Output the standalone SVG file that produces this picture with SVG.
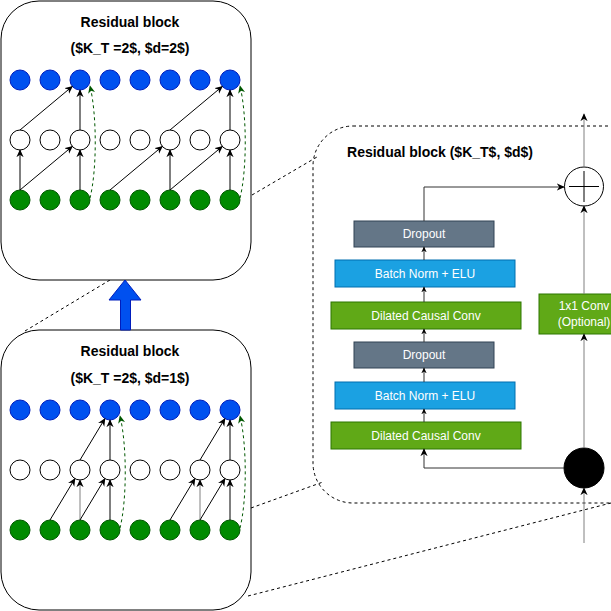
<svg xmlns="http://www.w3.org/2000/svg" width="611" height="611" viewBox="0 0 611 611">
<defs>
<marker id="ab" viewBox="0 0 10 10" refX="9" refY="5" markerWidth="8" markerHeight="8" markerUnits="userSpaceOnUse" orient="auto"><path d="M0,0.5 L10,5 L0,9.5 L3,5 z" fill="#000"/></marker>
<marker id="ag" viewBox="0 0 10 10" refX="9" refY="5" markerWidth="8" markerHeight="8" markerUnits="userSpaceOnUse" orient="auto"><path d="M0,0.5 L10,5 L0,9.5 L3,5 z" fill="#005700"/></marker>
<marker id="as" viewBox="0 0 10 10" refX="9" refY="5" markerWidth="6" markerHeight="6" markerUnits="userSpaceOnUse" orient="auto"><path d="M0,0.5 L10,5 L0,9.5 L3,5 z" fill="#000"/></marker>
</defs>
<style>
.blk{fill:#fff;stroke:#000;stroke-width:1}
.t{font-family:"Liberation Sans",Arial,sans-serif;font-weight:bold;font-size:14px;fill:#000;text-anchor:middle;dominant-baseline:central}
.lbl{font-family:"Liberation Sans",Arial,sans-serif;font-size:12px;fill:#fff;text-anchor:middle;dominant-baseline:central}
.b{fill:#0050ef;stroke:#001DBC}
.w{fill:#fff;stroke:#000}
.g{fill:#008a00;stroke:#005700}
.e{stroke:#000;fill:none;marker-end:url(#ab)}
.eg{stroke:#808080;fill:none;marker-end:url(#ab)}
.d{stroke:#005700;stroke-dasharray:3 3;fill:none;marker-end:url(#ag)}
.z{stroke:#000;stroke-dasharray:3 3;fill:none}
.s{stroke:#333;fill:none;marker-end:url(#as)}
.r{stroke:#333;fill:none;marker-end:url(#ab)}
.gray{fill:#647687;stroke:#314354}
.bn{fill:#1ba1e2;stroke:#006EAF}
.cv{fill:#60a917;stroke:#2D7600}
</style>

<!-- zoom lines -->
<g id="zoom-lines">
<path class="z" d="M252,195 L317,157"/>
<path class="z" d="M25,331 L110,280"/>
<path class="z" d="M251,508 L323,482"/>
<path class="z" d="M248,596 L611,503"/>
</g>

<!-- top block -->
<g id="block-top">
<rect class="blk" x="1" y="1" width="250" height="279" rx="38"/>
<text class="t" x="130" y="22">Residual block</text>
<text class="t" x="130" y="48">($K_T =2$, $d=2$)</text>
</g>

<!-- lower block -->
<g id="block-bottom">
<rect class="blk" x="1" y="330" width="250" height="280" rx="38"/>
<text class="t" x="130" y="351">Residual block</text>
<text class="t" x="130" y="378">($K_T =2$, $d=1$)</text>
</g>

<g id="up-arrow">
<polygon points="125,280 141,300 130.5,300 130.5,330 120.5,330 120.5,300 109,300" fill="#0050ef" stroke="#001DBC"/>
</g>

<!-- top block nodes -->
<g id="t-b1"><circle class="b" cx="20" cy="80" r="10"/></g>
<g id="t-b2"><circle class="b" cx="50" cy="80" r="10"/></g>
<g id="t-b3"><circle class="b" cx="80" cy="80" r="10"/></g>
<g id="t-b4"><circle class="b" cx="110" cy="80" r="10"/></g>
<g id="t-b5"><circle class="b" cx="140" cy="80" r="10"/></g>
<g id="t-b6"><circle class="b" cx="170" cy="80" r="10"/></g>
<g id="t-b7"><circle class="b" cx="200" cy="80" r="10"/></g>
<g id="t-b8"><circle class="b" cx="230" cy="80" r="10"/></g>
<g id="t-w1"><circle class="w" cx="20" cy="140" r="10"/></g>
<g id="t-w2"><circle class="w" cx="50" cy="140" r="10"/></g>
<g id="t-w3"><circle class="w" cx="80" cy="140" r="10"/></g>
<g id="t-w4"><circle class="w" cx="110" cy="140" r="10"/></g>
<g id="t-w5"><circle class="w" cx="140" cy="140" r="10"/></g>
<g id="t-w6"><circle class="w" cx="170" cy="140" r="10"/></g>
<g id="t-w7"><circle class="w" cx="200" cy="140" r="10"/></g>
<g id="t-w8"><circle class="w" cx="230" cy="140" r="10"/></g>
<g id="t-g1"><circle class="g" cx="20" cy="200" r="10"/></g>
<g id="t-g2"><circle class="g" cx="50" cy="200" r="10"/></g>
<g id="t-g3"><circle class="g" cx="80" cy="200" r="10"/></g>
<g id="t-g4"><circle class="g" cx="110" cy="200" r="10"/></g>
<g id="t-g5"><circle class="g" cx="140" cy="200" r="10"/></g>
<g id="t-g6"><circle class="g" cx="170" cy="200" r="10"/></g>
<g id="t-g7"><circle class="g" cx="200" cy="200" r="10"/></g>
<g id="t-g8"><circle class="g" cx="230" cy="200" r="10"/></g>

<!-- lower block nodes -->
<g id="l-b1"><circle class="b" cx="20" cy="410" r="10"/></g>
<g id="l-b2"><circle class="b" cx="50" cy="410" r="10"/></g>
<g id="l-b3"><circle class="b" cx="80" cy="410" r="10"/></g>
<g id="l-b4"><circle class="b" cx="110" cy="410" r="10"/></g>
<g id="l-b5"><circle class="b" cx="140" cy="410" r="10"/></g>
<g id="l-b6"><circle class="b" cx="170" cy="410" r="10"/></g>
<g id="l-b7"><circle class="b" cx="200" cy="410" r="10"/></g>
<g id="l-b8"><circle class="b" cx="230" cy="410" r="10"/></g>
<g id="l-w1"><circle class="w" cx="20" cy="470" r="10"/></g>
<g id="l-w2"><circle class="w" cx="50" cy="470" r="10"/></g>
<g id="l-w3"><circle class="w" cx="80" cy="470" r="10"/></g>
<g id="l-w4"><circle class="w" cx="110" cy="470" r="10"/></g>
<g id="l-w5"><circle class="w" cx="140" cy="470" r="10"/></g>
<g id="l-w6"><circle class="w" cx="170" cy="470" r="10"/></g>
<g id="l-w7"><circle class="w" cx="200" cy="470" r="10"/></g>
<g id="l-w8"><circle class="w" cx="230" cy="470" r="10"/></g>
<g id="l-g1"><circle class="g" cx="20" cy="530" r="10"/></g>
<g id="l-g2"><circle class="g" cx="50" cy="530" r="10"/></g>
<g id="l-g3"><circle class="g" cx="80" cy="530" r="10"/></g>
<g id="l-g4"><circle class="g" cx="110" cy="530" r="10"/></g>
<g id="l-g5"><circle class="g" cx="140" cy="530" r="10"/></g>
<g id="l-g6"><circle class="g" cx="170" cy="530" r="10"/></g>
<g id="l-g7"><circle class="g" cx="200" cy="530" r="10"/></g>
<g id="l-g8"><circle class="g" cx="230" cy="530" r="10"/></g>

<!-- right detail -->
<g id="detail-frame">
<rect class="z" x="313" y="126" width="360" height="377" rx="40"/>
<text class="t" x="440" y="152">Residual block ($K_T$, $d$)</text>
</g>
<g id="dropout1"><rect class="gray" x="354" y="221" width="140" height="26"/><text class="lbl" x="424" y="234">Dropout</text></g>
<g id="bn1"><rect class="bn" x="335" y="260" width="180" height="27"/><text class="lbl" x="425" y="273.5">Batch Norm + ELU</text></g>
<g id="conv1"><rect class="cv" x="331" y="302" width="190" height="27"/><text class="lbl" x="426" y="315.5">Dilated Causal Conv</text></g>
<g id="dropout2"><rect class="gray" x="354" y="342" width="140" height="26"/><text class="lbl" x="424" y="355">Dropout</text></g>
<g id="bn2"><rect class="bn" x="335" y="382" width="180" height="27"/><text class="lbl" x="425" y="395.5">Batch Norm + ELU</text></g>
<g id="conv2"><rect class="cv" x="331" y="422" width="190" height="27"/><text class="lbl" x="426" y="435.5">Dilated Causal Conv</text></g>
<g id="conv1x1"><rect class="cv" x="539" y="294" width="90" height="40"/><text class="lbl" x="584" y="306">1x1 Conv</text><text class="lbl" x="584" y="322">(Optional)</text></g>
<g id="sum"><circle cx="584" cy="186.5" r="19.5" fill="#fff" stroke="#000"/><path d="M569,186.5 H599 M584,171 V202" stroke="#000" fill="none"/></g>
<g id="split"><circle cx="584" cy="468" r="20" fill="#000" stroke="#000"/></g>

<!-- connectors -->
<g id="connectors">
<!-- top block d=2 -->
<path class="e" d="M20,190 V150"/>
<path class="e" d="M20,190 L72.3,146.4"/>
<path class="e" d="M80,190 V150"/>
<path class="e" d="M20,130 L72.3,86.4"/>
<path class="e" d="M80,130 V90"/>
<path class="d" d="M90,198 C97,170 97,115 90,86"/>
<path class="e" d="M110,190 L162.3,146.4"/>
<path class="e" d="M170,190 V150"/>
<path class="e" d="M170,190 L222.3,146.4"/>
<path class="e" d="M230,190 V150"/>
<path class="e" d="M170,130 L222.3,86.4"/>
<path class="e" d="M230,130 V90"/>
<path class="d" d="M240,198 C247,170 247,115 240,86"/>
<!-- lower block d=1 -->
<path class="e" d="M50,520 L74.9,478.6"/>
<path class="eg" d="M80,520 V480"/>
<path class="e" d="M80,520 L104.9,478.6"/>
<path class="e" d="M110,520 V480"/>
<path class="e" d="M80,460 L104.9,418.6"/>
<path class="e" d="M110,460 V420"/>
<path class="d" d="M120,528 C127,500 127,445 120,416"/>
<path class="e" d="M170,520 L194.9,478.6"/>
<path class="eg" d="M200,520 V480"/>
<path class="e" d="M200,520 L224.9,478.6"/>
<path class="e" d="M230,520 V480"/>
<path class="e" d="M200,460 L224.9,418.6"/>
<path class="e" d="M230,460 V420"/>
<path class="d" d="M240,528 C247,500 247,445 240,416"/>
<!-- detail -->
<path class="s" d="M424,422 V409"/>
<path class="s" d="M424,382 V368"/>
<path class="s" d="M424,342 V329"/>
<path class="s" d="M424,302 V287"/>
<path class="s" d="M424,260 V247"/>
<path class="r" d="M424,221 V187 H564"/>
<path class="r" d="M564,468 H424 V449"/>
<path class="eg" d="M584,543 V488"/>
<path class="eg" d="M584,448 V334"/>
<path class="eg" d="M584,294 V206"/>
<path class="eg" d="M584,167 V114"/>
</g>
</svg>
